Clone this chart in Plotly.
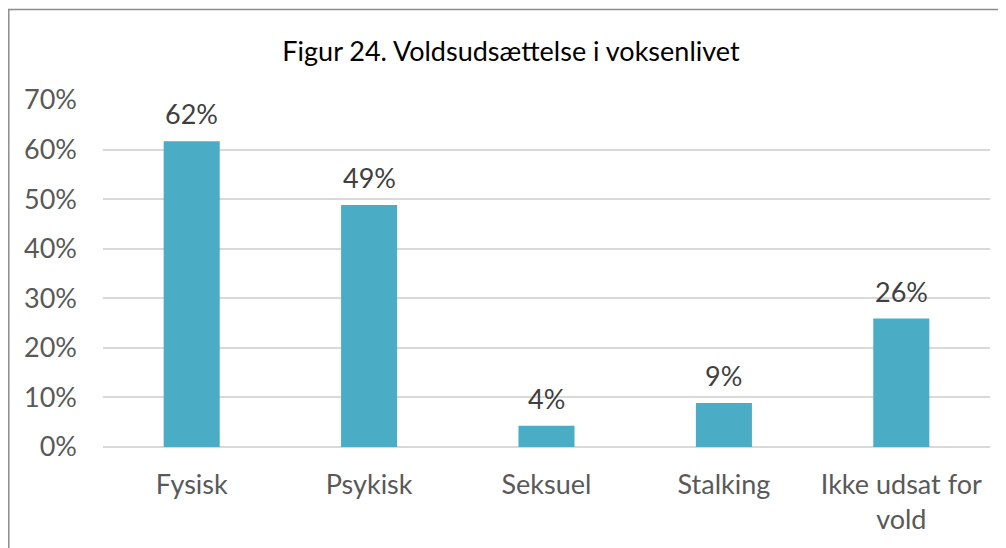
import plotly.graph_objects as go

categories = ["Fysisk", "Psykisk", "Seksuel", "Stalking", "Ikke udsat for<br>vold"]
values = [0.617, 0.488, 0.043, 0.089, 0.259]
labels = ["62%", "49%", "4%", "9%", "26%"]
y_ticks = [0, 0.1, 0.2, 0.3, 0.4, 0.5, 0.6, 0.7]

# page is offset by the default 8px body margin
OFF = 8
W, H = 1006 - OFF, 548 - OFF
L, T = 103 - OFF, 100 - OFF
R = W - (990 - OFF)
B = H - (447 - OFF)
pw, ph = W - L - R, H - T - B

def px_x(p):
    return (p - OFF - L) / pw

def px_y(p):
    return (H - B - (p - OFF)) / ph

fig = go.Figure(go.Bar(
    x=categories, y=values,
    marker=dict(color="#4BACC6", line=dict(width=0)),
))

for c, v, t in zip(categories, values, labels):
    fig.add_annotation(x=c, y=v, text=t, showarrow=False, yanchor="bottom",
                       yshift=9, font=dict(size=27, color="#404040"))

fig.update_layout(
    width=W, height=H,
    margin=dict(l=L, r=R, t=T, b=B),
    paper_bgcolor="white", plot_bgcolor="white",
    font=dict(family="Lato, Carlito, Calibri, sans-serif", color="#595959"),
    title=dict(text="Figur 24. Voldsudsættelse i voksenlivet",
               font=dict(size=27, color="#000000"),
               x=(511 - OFF) / W, xanchor="center", y=1 - (52 - OFF) / H, yanchor="middle"),
    bargap=0.684,
    showlegend=False,
    shapes=[
        dict(type="line", xref="paper", yref="paper",
             x0=px_x(8.8), x1=px_x(8.8), y0=px_y(600), y1=px_y(9.5),
             line=dict(color="#8C8C8C", width=1.5)),
        dict(type="line", xref="paper", yref="paper",
             x0=px_x(8.0), x1=px_x(1100), y0=px_y(9.5), y1=px_y(9.5),
             line=dict(color="#8C8C8C", width=1.5)),
    ],
)
fig.update_yaxes(range=[0, 0.7], tickvals=y_ticks, tickformat=".0%",
                 showgrid=True, gridcolor="#D9D9D9", gridwidth=1.5,
                 zeroline=True, zerolinecolor="#D9D9D9", zerolinewidth=1.5,
                 showline=False, ticks="", ticklabelstandoff=25,
                 tickfont=dict(size=27, color="#595959"))
fig.update_xaxes(showgrid=False, showline=False, ticks="", ticklabelstandoff=19,
                 tickfont=dict(size=27, color="#595959"))

fig.write_html("out.html")
